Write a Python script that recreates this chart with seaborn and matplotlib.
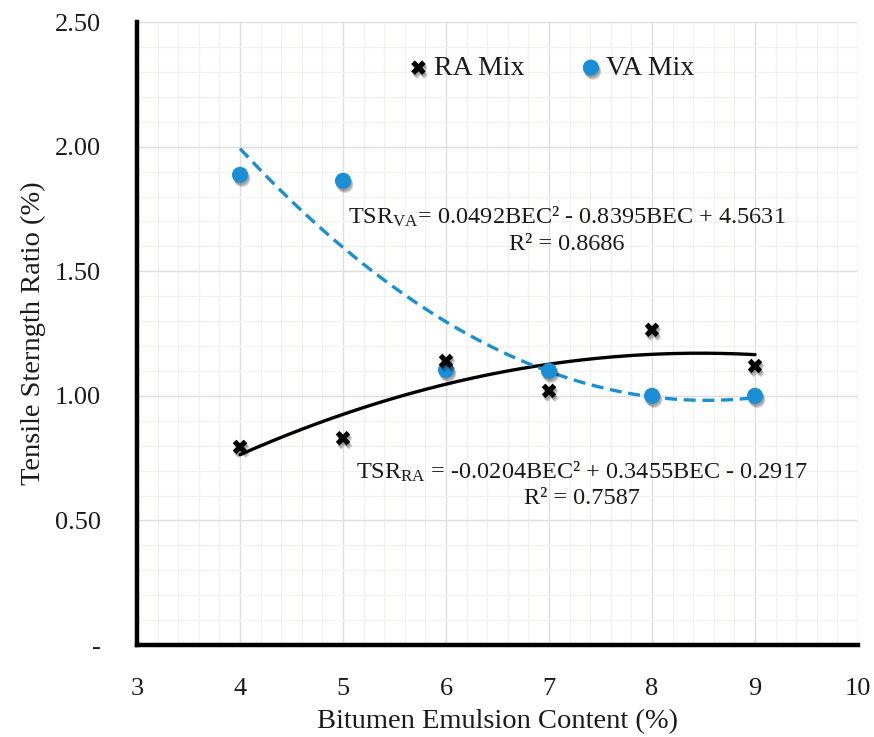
import numpy as np
import pandas as pd
import matplotlib
matplotlib.use("Agg")
import matplotlib.pyplot as plt
import matplotlib.patheffects as pe
from matplotlib.ticker import MultipleLocator, FixedLocator, FuncFormatter
import seaborn as sns

# Bitumen emulsion content (%)
bec = [4, 5, 6, 7, 8, 9]
# Tensile strength ratio per mix
tsr_ra = [0.795, 0.83, 1.14, 1.02, 1.265, 1.12]
tsr_va = [1.887, 1.863, 1.104, 1.10, 1.00, 1.00]

# Quadratic trend coefficients (a*x^2 + b*x + c)
coef_ra = [-0.0204, 0.3455, -0.2917]
coef_va = [0.0492, -0.8395, 4.5631]
r2_ra = 0.7587
r2_va = 0.8686

x_ticks = [3, 4, 5, 6, 7, 8, 9, 10]
y_ticks = [0.0, 0.5, 1.0, 1.5, 2.0, 2.5]

sns.set_theme(style="white")
plt.rcParams["font.family"] = ["Liberation Serif", "DejaVu Serif"]
plt.rcParams["mathtext.fontset"] = "custom"
plt.rcParams["mathtext.rm"] = "Liberation Serif"
plt.rcParams["mathtext.it"] = "Liberation Serif:italic"

BLUE = "#1b8fd6"
INK = "#1a1a1a"

fig = plt.figure(figsize=(8.74, 7.37), dpi=100)
ax = fig.add_axes([0.1568, 0.1248, 0.8249, 0.8452])

df = pd.DataFrame({
    "BEC": bec * 2,
    "TSR": tsr_ra + tsr_va,
    "Mix": ["RA Mix"] * len(bec) + ["VA Mix"] * len(bec),
})

# Trend curves evaluated from the stated coefficients
xs = np.linspace(min(bec), max(bec), 200)
trend = pd.DataFrame({
    "BEC": np.concatenate([xs, xs]),
    "TSR": np.concatenate([np.polyval(coef_ra, xs), np.polyval(coef_va, xs)]),
    "Mix": ["RA"] * len(xs) + ["VA"] * len(xs),
})
sns.lineplot(data=trend[trend.Mix == "RA"], x="BEC", y="TSR", ax=ax,
             color="black", linewidth=2.4, zorder=3, legend=False)
sns.lineplot(data=trend[trend.Mix == "VA"], x="BEC", y="TSR", ax=ax,
             color=BLUE, linewidth=2.4, zorder=3, legend=False)
ax.lines[-1].set_dashes([3.6, 2.0])

# soft drop shadow built from a few faint offset copies
shadow = [pe.SimplePatchShadow(offset=o, shadow_rgbFace="black", alpha=0.14, rho=0.3)
          for o in [(0.6, -1.4), (1.2, -2.2), (1.6, -3.0)]] + [pe.Normal()]

sns.scatterplot(data=df[df.Mix == "VA Mix"], x="BEC", y="TSR", ax=ax,
                color=BLUE, marker="o", s=135, edgecolor="none",
                zorder=4, label="VA Mix")
ax.collections[-1].set_path_effects(shadow)
sns.scatterplot(data=df[df.Mix == "RA Mix"], x="BEC", y="TSR", ax=ax,
                color="black", marker="X", s=110, edgecolor="none",
                zorder=5, label="RA Mix")
ax.collections[-1].set_path_effects(shadow)

ax.set_xlim(3, 10)
ax.set_ylim(0, 2.5)

# Grid: integer / 0.5 majors in grey, 0.2 / 0.1 minors in pale green
ax.xaxis.set_major_locator(FixedLocator(x_ticks))
ax.yaxis.set_major_locator(FixedLocator(y_ticks))
ax.xaxis.set_minor_locator(MultipleLocator(0.2))
ax.yaxis.set_minor_locator(MultipleLocator(0.1))
ax.grid(which="minor", color="#eef4ec", linewidth=0.9, zorder=0)
ax.grid(which="major", color="#dedede", linewidth=1.0, zorder=0)
ax.set_axisbelow(True)

ax.yaxis.set_major_formatter(FuncFormatter(lambda v, p: "-" if abs(v) < 1e-9 else f"{v:.2f}"))
ax.xaxis.set_major_formatter(FuncFormatter(lambda v, p: f"{v:.0f}"))

for side in ("top", "right"):
    ax.spines[side].set_visible(False)
for side in ("left", "bottom"):
    ax.spines[side].set_color("black")
    ax.spines[side].set_linewidth(3.2)

ax.tick_params(axis="x", which="major", direction="in", length=6, width=2.6,
               color="black", labelsize=19, pad=24, labelcolor=INK)
ax.tick_params(axis="y", which="major", direction="in", length=6, width=2.6,
               color="black", labelsize=19, pad=26, labelcolor=INK)
ax.tick_params(which="minor", length=0)

ax.set_xlabel("Bitumen Emulsion Content (%)", fontsize=20.5, color=INK, labelpad=6)
ax.set_ylabel("Tensile Sterngth Ratio (%)", fontsize=20.5, color=INK, labelpad=6)

# Legend: markers only, ordered RA then VA
handles, labels = ax.get_legend_handles_labels()
order = [labels.index("RA Mix"), labels.index("VA Mix")]
leg = ax.legend([handles[i] for i in order], [labels[i] for i in order],
                loc="center", bbox_to_anchor=(0.574, 0.926), ncol=2,
                frameon=False, fontsize=20, handlelength=0.8,
                handletextpad=0.15, columnspacing=2.0)
for t in leg.get_texts():
    t.set_color(INK)

eq_va = (r"TSR$_{\mathregular{VA}}$= " + f"{coef_va[0]:.4f}BEC² - {abs(coef_va[1]):.4f}BEC + {coef_va[2]:.4f}"
         + "\n" + f"R² = {r2_va:.4f}")
eq_ra = (r"TSR$_{\mathregular{RA}}$ = " + f"{coef_ra[0]:.4f}BEC² + {coef_ra[1]:.4f}BEC - {abs(coef_ra[2]):.4f}"
         + "\n" + f"R² = {r2_ra:.4f}")
ax.text(5.05, 1.665, eq_va, fontsize=17.5, ha="left", va="center",
        multialignment="center", color=INK, linespacing=1.3)
ax.text(5.13, 0.645, eq_ra, fontsize=17.5, ha="left", va="center",
        multialignment="center", color=INK, linespacing=1.3)

fig.savefig("out.png", dpi=100)
